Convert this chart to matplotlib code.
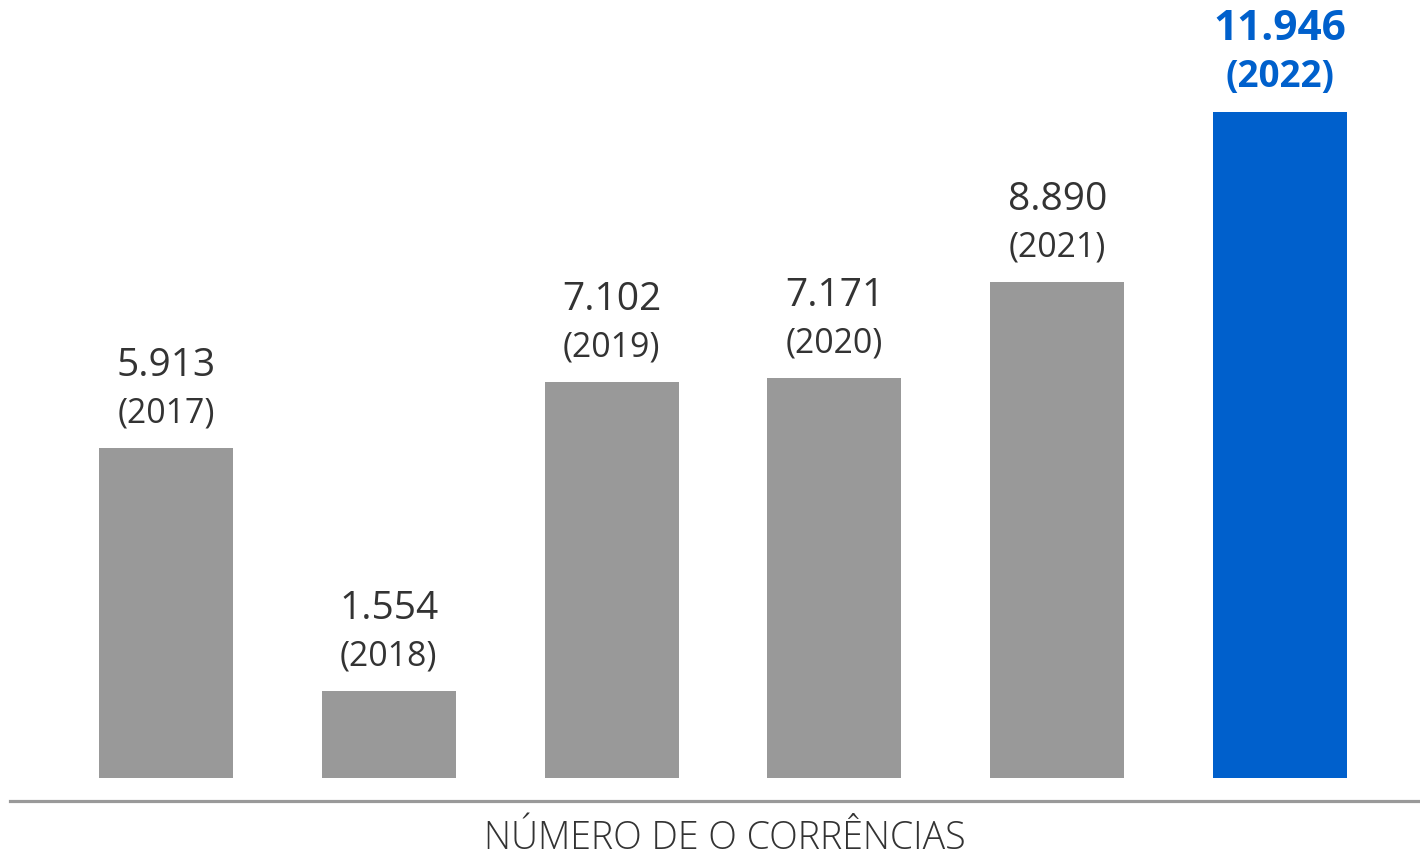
import matplotlib.pyplot as plt
from matplotlib.lines import Line2D

years = ["2017", "2018", "2019", "2020", "2021", "2022"]
values = [5913, 1554, 7102, 7171, 8890, 11946]
labels = ["5.913", "1.554", "7.102", "7.171", "8.890", "11.946"]

gray = "#999999"
blue = "#0060CC"
text_color = "#333333"

plt.rcParams['font.family'] = ['Open Sans', 'DejaVu Sans']

W, H = 1420, 859
fig = plt.figure(figsize=(W / 100, H / 100), dpi=100)

# axes placed in pixels: bar bottoms at y=778, tallest bar top at y=112
bottom_px, top_px = 778, 112
ax = fig.add_axes([0, (H - bottom_px) / H, 1, (bottom_px - top_px) / H])
ax.set_ylim(0, max(values))
step = 222.8
ax.set_xlim(-166 / step, (W - 166) / step)
ax.axis("off")

x = list(range(len(values)))
colors = [gray] * (len(values) - 1) + [blue]
bars = ax.bar(x, values, width=134 / step, color=colors, clip_on=False)

for i, (v, lab, yr) in enumerate(zip(values, labels, years)):
    last = i == len(values) - 1
    c = blue if last else text_color
    w = "bold" if last else "normal"
    ax.annotate("(" + yr + ")", (i, v), xytext=(0, 35), textcoords="offset pixels",
                ha="center", va="center", fontsize=26.5 if last else 24.3,
                color=c, fontweight=w, annotation_clip=False)
    ax.annotate(lab, (i, v), xytext=(0, 82), textcoords="offset pixels",
                ha="center", va="center", fontsize=30.5 if last else 28,
                color=c, fontweight=w, annotation_clip=False)

# baseline
fig.add_artist(Line2D([10 / W, 1], [1 - 801 / H] * 2, transform=fig.transFigure,
                      color=gray, linewidth=2.3))

fig.text(725 / W, 1 - 839 / H, "NÚMERO DE O CORRÊNCIAS", ha="center", va="center",
         fontsize=27, fontweight="light", color=text_color)

fig.savefig("out.png", dpi=100)
